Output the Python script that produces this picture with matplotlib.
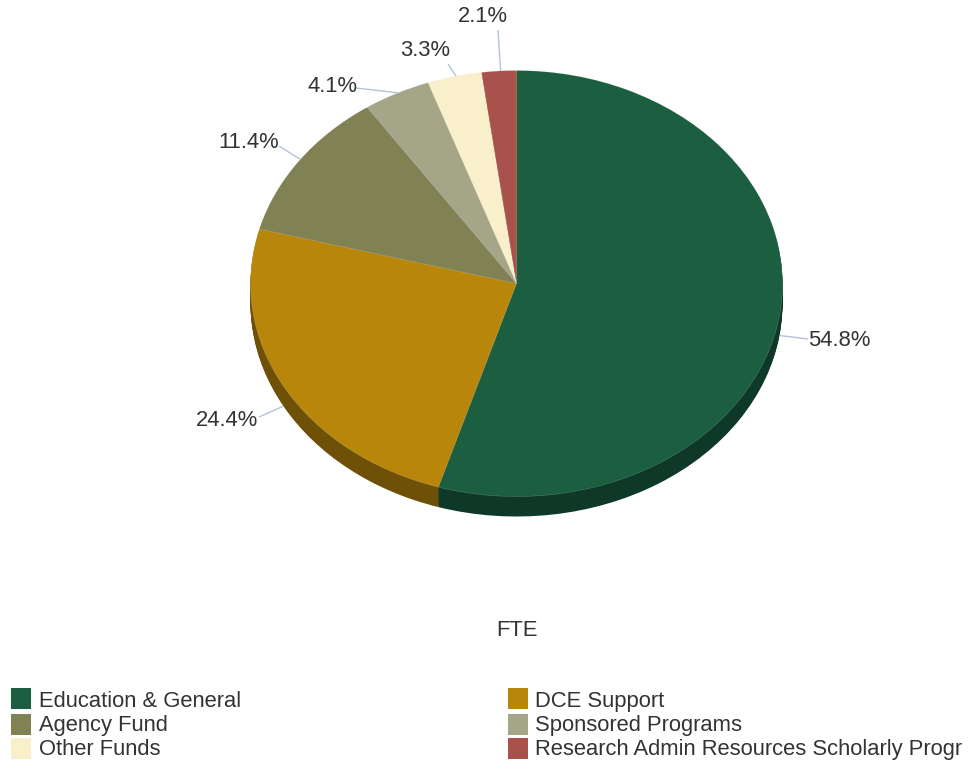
import math
import matplotlib
matplotlib.use("Agg")
import matplotlib.pyplot as plt
from matplotlib.patches import Rectangle

categories = ["Education & General", "DCE Support", "Agency Fund",
              "Sponsored Programs", "Other Funds",
              "Research Admin Resources Scholarly Progr"]
values = [54.8, 24.4, 11.4, 4.1, 3.3, 2.1]
labels = ["54.8%", "24.4%", "11.4%", "4.1%", "3.3%", "2.1%"]
colors = ["#1B5E40", "#B8860B", "#808254", "#A5A688", "#F9EFCB", "#A9524B"]
dark_colors = ["#0E3827", "#6E5007", "#4D4E32", "#636452", "#95907A", "#65312D"]

W, H = 969, 763
CX, CY, RX, RY, DEPTH = 516.5, 283.5, 266, 213, 20
TEXT = "#333333"
LINE = "#B4C3DA"
FONT = "Liberation Sans"

fig = plt.figure(figsize=(W / 100, H / 100), dpi=100, facecolor="white")
ax = fig.add_axes([0, 0, 1, 1])


def px(x, y):
    return (x - CX) / RX, (CY - y) / RY


for off in range(DEPTH, 0, -1):
    ax.pie(values, colors=dark_colors, startangle=90, counterclock=False,
           center=(0, -off / RY), radius=1, wedgeprops={"linewidth": 0})
ax.pie(values, colors=colors, startangle=90, counterclock=False,
       center=(0, 0), radius=1, wedgeprops={"linewidth": 0.4, "edgecolor": "#ffffff40"})

ax.set_aspect("auto")
ax.set_xlim(px(0, 0)[0], px(W, 0)[0])
ax.set_ylim(px(0, H)[1], px(0, 0)[1])
ax.axis("off")

# label anchor (baseline) and alignment, in pixels of the figure
label_pos = [(808, 346, "left"), (258, 426, "right"), (279, 148, "right"),
             (357, 92, "right"), (450, 56, "right"), (508, 22, "right")]
conn_end = [(808, 339), (259, 417), (279, 146), (356, 88), (448, 64), (498, 30)]

cum = 0.0
for v, lab, (lx, ly, ha), (ex, ey) in zip(values, labels, label_pos, conn_end):
    a = math.radians((cum + v / 2) * 3.6)
    cum += v
    sx, sy = CX + RX * math.sin(a), CY - RY * math.cos(a)
    if math.cos(a) < 0:
        sy += DEPTH
    p0, p1 = px(sx, sy), px(ex, ey)
    ax.plot([p0[0], p1[0]], [p0[1], p1[1]], color=LINE, lw=1.0, zorder=5,
            solid_capstyle="butt")
    tx, ty = px(lx, ly)
    ax.text(tx, ty, lab, ha=ha, va="baseline", fontsize=15.84, color=TEXT,
            family=FONT, zorder=6)

tx, ty = px(517, 636)
ax.text(tx, ty, "FTE", ha="center", va="baseline", fontsize=15.84, color=TEXT, family=FONT)

col_x = [11, 508]
col_text = [39, 535]
row_y = [688, 714, 738]
row_base = [707, 731, 755]
for i, (cat, c) in enumerate(zip(categories, colors)):
    x0 = col_x[i % 2]
    y0 = row_y[i // 2]
    fig.add_artist(Rectangle((x0 / W, 1 - (y0 + 21) / H), 20 / W, 21 / H,
                             transform=fig.transFigure, facecolor=c, edgecolor="none"))
    fig.text(col_text[i % 2] / W, 1 - row_base[i // 2] / H, cat,
             ha="left", va="baseline", fontsize=15.84, color=TEXT, family=FONT)

fig.savefig("out.png", dpi=100, facecolor="white")
